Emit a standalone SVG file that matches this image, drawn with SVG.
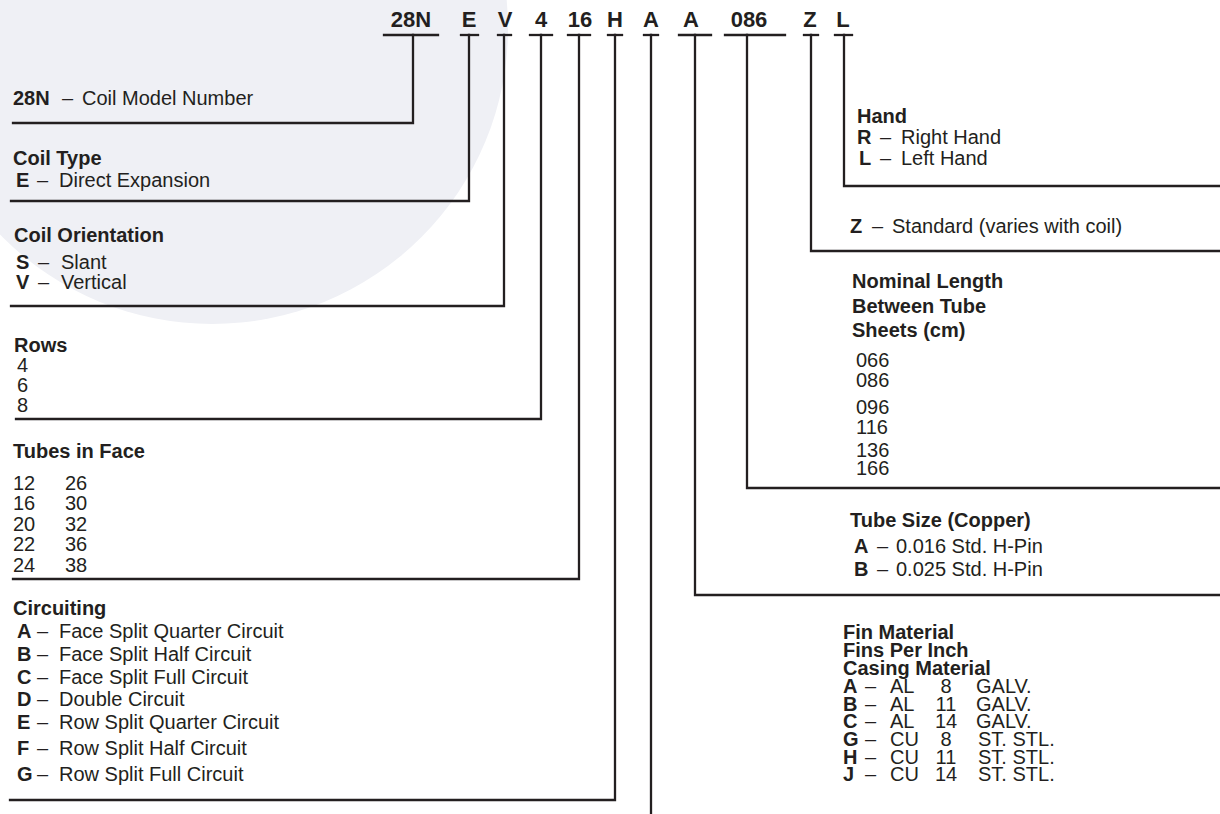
<svg xmlns="http://www.w3.org/2000/svg" width="1220" height="814" viewBox="0 0 1220 814">
<style>
.t{font-family:"Liberation Sans",Arial,Helvetica,sans-serif;font-size:20px;fill:#231f20}
.b{font-weight:bold}
.code{font-family:"Liberation Sans",Arial,Helvetica,sans-serif;font-size:22px;font-weight:bold;fill:#231f20;text-anchor:middle}
.ln{stroke:#231f20;stroke-width:2.3;fill:none;stroke-linecap:square}
</style>
<rect width="1220" height="814" fill="#ffffff"/>
<g id="watermark">
<circle cx="212" cy="28" r="296" fill="#eff0f5"/>
</g>
<g id="codes">
<g id="code-28N"><text class="code" x="411" y="27">28N</text><path class="ln" d="M384,35H438"/></g>
<g id="code-E"><text class="code" x="469" y="27">E</text><path class="ln" d="M461,35H478"/></g>
<g id="code-V"><text class="code" x="505" y="27">V</text><path class="ln" d="M498,35H511"/></g>
<g id="code-4"><text class="code" x="541" y="27">4</text><path class="ln" d="M530,35H552"/></g>
<g id="code-16"><text class="code" x="580" y="27">16</text><path class="ln" d="M568,35H590"/></g>
<g id="code-H"><text class="code" x="615" y="27">H</text><path class="ln" d="M608,35H622"/></g>
<g id="code-A1"><text class="code" x="651" y="27">A</text><path class="ln" d="M644,35H658"/></g>
<g id="code-A2"><text class="code" x="691" y="27">A</text><path class="ln" d="M679,35H711"/></g>
<g id="code-086"><text class="code" x="749" y="27">086</text><path class="ln" d="M725,35H785"/></g>
<g id="code-Z"><text class="code" x="810" y="27">Z</text><path class="ln" d="M804,35H818"/></g>
<g id="code-L"><text class="code" x="843" y="27">L</text><path class="ln" d="M835,35H852"/></g>
</g>
<g id="connectors">
<path class="ln" d="M413,35V123H13"/>
<path class="ln" d="M469,35V201H11"/>
<path class="ln" d="M504,35V306H11"/>
<path class="ln" d="M541,35V419H16"/>
<path class="ln" d="M579,35V579H13"/>
<path class="ln" d="M615,35V800H10"/>
<path class="ln" d="M651,35V816"/>
<path class="ln" d="M695,35V595H1222"/>
<path class="ln" d="M747,35V488H1222"/>
<path class="ln" d="M811,35V251H1222"/>
<path class="ln" d="M844,35V186H1222"/>
</g>
<g id="model">
<text class="t" y="105"><tspan x="13" class="b">28N</tspan><tspan x="62">–</tspan><tspan x="82">Coil Model Number</tspan></text>
</g>
<g id="coil-type">
<text class="t b" x="13" y="165">Coil Type</text>
<text class="t" y="187"><tspan x="16" class="b">E</tspan><tspan x="37">–</tspan><tspan x="59">Direct Expansion</tspan></text>
</g>
<g id="coil-orientation">
<text class="t b" x="14" y="242">Coil Orientation</text>
<text class="t" y="269"><tspan x="16" class="b">S</tspan><tspan x="38">–</tspan><tspan x="61">Slant</tspan></text>
<text class="t" y="289"><tspan x="16" class="b">V</tspan><tspan x="38">–</tspan><tspan x="61">Vertical</tspan></text>
</g>
<g id="rows">
<text class="t b" x="14" y="352">Rows</text>
<text class="t" x="17" y="372">4</text>
<text class="t" x="17" y="392">6</text>
<text class="t" x="17" y="412">8</text>
</g>
<g id="tubes-in-face">
<text class="t b" x="13" y="458">Tubes in Face</text>
<text class="t" y="490"><tspan x="13">12</tspan><tspan x="65">26</tspan></text>
<text class="t" y="510"><tspan x="13">16</tspan><tspan x="65">30</tspan></text>
<text class="t" y="531"><tspan x="13">20</tspan><tspan x="65">32</tspan></text>
<text class="t" y="551"><tspan x="13">22</tspan><tspan x="65">36</tspan></text>
<text class="t" y="572"><tspan x="13">24</tspan><tspan x="65">38</tspan></text>
</g>
<g id="circuiting">
<text class="t b" x="13" y="615">Circuiting</text>
<text class="t" y="638"><tspan x="17" class="b">A</tspan><tspan x="37">–</tspan><tspan x="59">Face Split Quarter Circuit</tspan></text>
<text class="t" y="661"><tspan x="17" class="b">B</tspan><tspan x="37">–</tspan><tspan x="59">Face Split Half Circuit</tspan></text>
<text class="t" y="684"><tspan x="17" class="b">C</tspan><tspan x="37">–</tspan><tspan x="59">Face Split Full Circuit</tspan></text>
<text class="t" y="706"><tspan x="17" class="b">D</tspan><tspan x="37">–</tspan><tspan x="59">Double Circuit</tspan></text>
<text class="t" y="729"><tspan x="17" class="b">E</tspan><tspan x="37">–</tspan><tspan x="59">Row Split Quarter Circuit</tspan></text>
<text class="t" y="755"><tspan x="17" class="b">F</tspan><tspan x="37">–</tspan><tspan x="59">Row Split Half Circuit</tspan></text>
<text class="t" y="781"><tspan x="17" class="b">G</tspan><tspan x="37">–</tspan><tspan x="59">Row Split Full Circuit</tspan></text>
</g>
<g id="hand">
<text class="t b" x="857" y="123">Hand</text>
<text class="t" y="144"><tspan x="857" class="b">R</tspan><tspan x="880">–</tspan><tspan x="901">Right Hand</tspan></text>
<text class="t" y="165"><tspan x="859" class="b">L</tspan><tspan x="880">–</tspan><tspan x="901">Left Hand</tspan></text>
</g>
<g id="standard">
<text class="t" y="233"><tspan x="850" class="b">Z</tspan><tspan x="872">–</tspan><tspan x="892">Standard (varies with coil)</tspan></text>
</g>
<g id="nominal-length">
<text class="t b" x="852" y="288">Nominal Length</text>
<text class="t b" x="852" y="313">Between Tube</text>
<text class="t b" x="852" y="337">Sheets (cm)</text>
<text class="t" x="856" y="367">066</text>
<text class="t" x="856" y="387">086</text>
<text class="t" x="856" y="414">096</text>
<text class="t" x="856" y="434">116</text>
<text class="t" x="856" y="457">136</text>
<text class="t" x="856" y="475">166</text>
</g>
<g id="tube-size">
<text class="t b" x="850" y="527">Tube Size (Copper)</text>
<text class="t" y="553"><tspan x="854" class="b">A</tspan><tspan x="877">–</tspan><tspan x="896">0.016 Std. H-Pin</tspan></text>
<text class="t" y="576"><tspan x="854" class="b">B</tspan><tspan x="877">–</tspan><tspan x="896">0.025 Std. H-Pin</tspan></text>
</g>
<g id="fin-material">
<text class="t b" x="843" y="639">Fin Material</text>
<text class="t b" x="843" y="657">Fins Per Inch</text>
<text class="t b" x="843" y="675">Casing Material</text>
<text class="t" y="693"><tspan x="843" class="b">A</tspan><tspan x="865">–</tspan><tspan x="890">AL</tspan><tspan x="946" text-anchor="middle">8</tspan><tspan x="976">GALV.</tspan></text>
<text class="t" y="711"><tspan x="843" class="b">B</tspan><tspan x="865">–</tspan><tspan x="890">AL</tspan><tspan x="946" text-anchor="middle">11</tspan><tspan x="976">GALV.</tspan></text>
<text class="t" y="728"><tspan x="843" class="b">C</tspan><tspan x="865">–</tspan><tspan x="890">AL</tspan><tspan x="946" text-anchor="middle">14</tspan><tspan x="976">GALV.</tspan></text>
<text class="t" y="746"><tspan x="843" class="b">G</tspan><tspan x="865">–</tspan><tspan x="890">CU</tspan><tspan x="946" text-anchor="middle">8</tspan><tspan x="978">ST. STL.</tspan></text>
<text class="t" y="764"><tspan x="843" class="b">H</tspan><tspan x="865">–</tspan><tspan x="890">CU</tspan><tspan x="946" text-anchor="middle">11</tspan><tspan x="978">ST. STL.</tspan></text>
<text class="t" y="781"><tspan x="843" class="b">J</tspan><tspan x="865">–</tspan><tspan x="890">CU</tspan><tspan x="946" text-anchor="middle">14</tspan><tspan x="978">ST. STL.</tspan></text>
</g>
</svg>
